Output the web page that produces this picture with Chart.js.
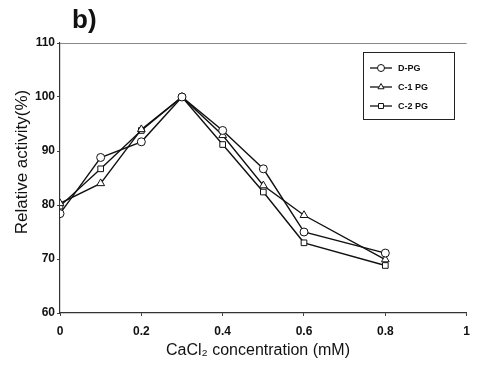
<!DOCTYPE html>
<html>
<head>
<meta charset="utf-8">
<script src="https://cdn.jsdelivr.net/npm/chart.js@4/dist/chart.umd.min.js"></script>
<style>
  html, body { margin: 0; padding: 0; background: #fff; }
  #wrap { width: 478px; height: 366px; }
</style>
</head>
<body>
<div id="wrap"><canvas id="myChart" width="478" height="366"></canvas></div>
<script>
// valeurs
const concentrations = [0, 0.1, 0.2, 0.3, 0.4, 0.5, 0.6, 0.8];
const dpg = [78.4, 88.8, 91.7, 100, 93.8, 86.7, 75.0, 71.1];
const c1pg = [80.3, 84.0, 94.0, 100, 92.9, 83.6, 78.1, 69.9];
const c2pg = [79.8, 86.7, 93.8, 100, 91.2, 82.4, 73.0, 68.8];
const seriesNames = ['D-PG', 'C-1 PG', 'C-2 PG'];
const xTicks = [0, 0.2, 0.4, 0.6, 0.8, 1];
const yTicks = [60, 70, 80, 90, 100, 110];

function toPoints(values) {
    return concentrations.map((x, i) => ({ x: x, y: values[i] }));
}

function makeSet(label, values, style) {
    return {
        label: label,
        data: toPoints(values),
        borderColor: '#111',
        borderWidth: 1.4,
        backgroundColor: '#fff',
        pointStyle: style,
        pointRadius: style === 'triangle' ? 4.5 : 4,
        pointBorderWidth: 1,
        pointBorderColor: '#111',
        pointBackgroundColor: '#fff',
        tension: 0
    };
}

// titres, cadre et légende dessinés à la main
const decorPlugin = {
    id: 'decor',
    afterDraw(chart) {
        const ctx = chart.ctx;
        const area = chart.chartArea;
        ctx.save();
        // ligne du haut
        ctx.strokeStyle = '#888';
        ctx.lineWidth = 1;
        ctx.beginPath();
        ctx.moveTo(area.left, area.top + 0.5);
        ctx.lineTo(area.right, area.top + 0.5);
        ctx.stroke();

        ctx.fillStyle = '#111';
        ctx.font = 'bold 26px Arial, "Liberation Sans"';
        ctx.textBaseline = 'alphabetic';
        ctx.textAlign = 'left';
        ctx.fillText('b)', 72, 28);

        ctx.font = '16px Arial, "Liberation Sans"';
        ctx.textAlign = 'center';
        ctx.textBaseline = 'middle';
        ctx.fillText('CaCl\u2082 concentration (mM)', 258, 351);

        ctx.save();
        ctx.translate(22, 162);
        ctx.rotate(-Math.PI / 2);
        ctx.font = '17px Arial, "Liberation Sans"';
        ctx.fillText('Relative activity(%)', 0, 0);
        ctx.restore();

        // légende
        ctx.strokeStyle = '#222';
        ctx.lineWidth = 1;
        ctx.strokeRect(363.5, 52.5, 91, 67);
        const rowsY = [68, 87, 106];
        chart.data.datasets.forEach((ds, i) => {
            const y = rowsY[i];
            ctx.strokeStyle = '#111';
            ctx.lineWidth = 1.3;
            ctx.beginPath();
            ctx.moveTo(370, y);
            ctx.lineTo(392, y);
            ctx.stroke();
            ctx.fillStyle = '#fff';
            ctx.lineWidth = 1;
            Chart.helpers.drawPoint(ctx, { pointStyle: ds.pointStyle, radius: 3.5, rotation: 0, borderWidth: 1 }, 381, y);
            ctx.fillStyle = '#111';
            ctx.font = 'bold 9px Arial, "Liberation Sans"';
            ctx.textAlign = 'left';
            ctx.textBaseline = 'middle';
            ctx.fillText(ds.label, 398, y + 0.5);
        });
        ctx.restore();
    }
};

const ctx = document.getElementById('myChart').getContext('2d');
const myChart = new Chart(ctx, {
    type: 'line',
    data: {
        datasets: [
            makeSet(seriesNames[0], dpg, 'circle'),
            makeSet(seriesNames[1], c1pg, 'triangle'),
            makeSet(seriesNames[2], c2pg, 'rect')
        ]
    },
    options: {
        responsive: false,
        animation: false,
        layout: { padding: { top: 43, right: 5, left: 0, bottom: 0 } },
        plugins: {
            legend: { display: false },
            tooltip: { enabled: false }
        },
        scales: {
            x: {
                type: 'linear',
                min: 0,
                max: 1,
                afterBuildTicks: s => { s.ticks = xTicks.map(v => ({ value: v })); },
                afterFit: s => { s.height = 53; },
                ticks: {
                    color: '#111',
                    font: { family: 'Arial, "Liberation Sans"', size: 12, weight: 'bold' },
                    padding: 8,
                    maxRotation: 0,
                    callback: v => String(v)
                },
                grid: { display: true, drawOnChartArea: false, tickLength: 3, color: '#444' },
                border: { display: true, color: '#333', width: 1.2 }
            },
            y: {
                min: 60,
                max: 110,
                afterBuildTicks: s => { s.ticks = yTicks.map(v => ({ value: v })); },
                afterFit: s => { s.width = 60; },
                ticks: {
                    color: '#111',
                    font: { family: 'Arial, "Liberation Sans"', size: 12, weight: 'bold' },
                    padding: 2,
                    callback: v => String(v)
                },
                grid: { display: true, drawOnChartArea: false, tickLength: 3, color: '#444' },
                border: { display: true, color: '#333', width: 1.2 }
            }
        }
    },
    plugins: [decorPlugin]
});
</script>
</body>
</html>
